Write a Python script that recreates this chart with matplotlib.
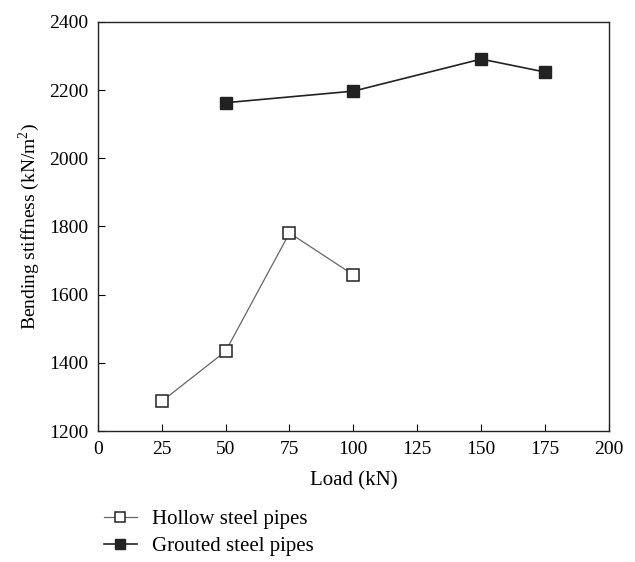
import matplotlib
matplotlib.use("Agg")
import matplotlib.pyplot as plt

plt.rcParams['font.family'] = ['Liberation Serif', 'DejaVu Serif']
plt.rcParams['mathtext.fontset'] = 'custom'
plt.rcParams['mathtext.rm'] = 'Liberation Serif'

# hollow steel pipes
hollow_load = [25, 50, 75, 100]
hollow_stiff = [1287, 1434, 1781, 1658]

# grouted steel pipes
grouted_load = [50, 100, 150, 175]
grouted_stiff = [2163, 2197, 2291, 2253]

fig = plt.figure(figsize=(6.35, 5.62), dpi=100)
ax = fig.add_axes([0.154, 0.233, 0.805, 0.728])

ax.plot(hollow_load, hollow_stiff, color='#666666', lw=0.9, marker='s',
        ms=8, mfc='white', mec='#222222', mew=1.1, label='Hollow steel pipes')
ax.plot(grouted_load, grouted_stiff, color='#222222', lw=1.2, marker='s',
        ms=8, mfc='#222222', mec='#222222', label='Grouted steel pipes')

ax.set_xlim(0, 200)
ax.set_ylim(1200, 2400)
ax.set_xticks(range(0, 201, 25))
ax.set_yticks(range(1200, 2401, 200))
ax.tick_params(direction='in', labelsize=14, length=5, pad=7,
               top=False, right=False)
for s in ax.spines.values():
    s.set_linewidth(1.0)
    s.set_color('#222222')

ax.set_xlabel('Load (kN)', fontsize=15, labelpad=10)
ax.set_ylabel('Bending stiffness (kN/m$^2$)', fontsize=14, labelpad=5)

fig.legend(loc='upper left', bbox_to_anchor=(0.15, 0.108), frameon=False,
           fontsize=15, handlelength=1.6, handletextpad=0.7, labelspacing=0.35,
           borderaxespad=0, markerscale=0.85)

fig.savefig('out.png', dpi=100)
